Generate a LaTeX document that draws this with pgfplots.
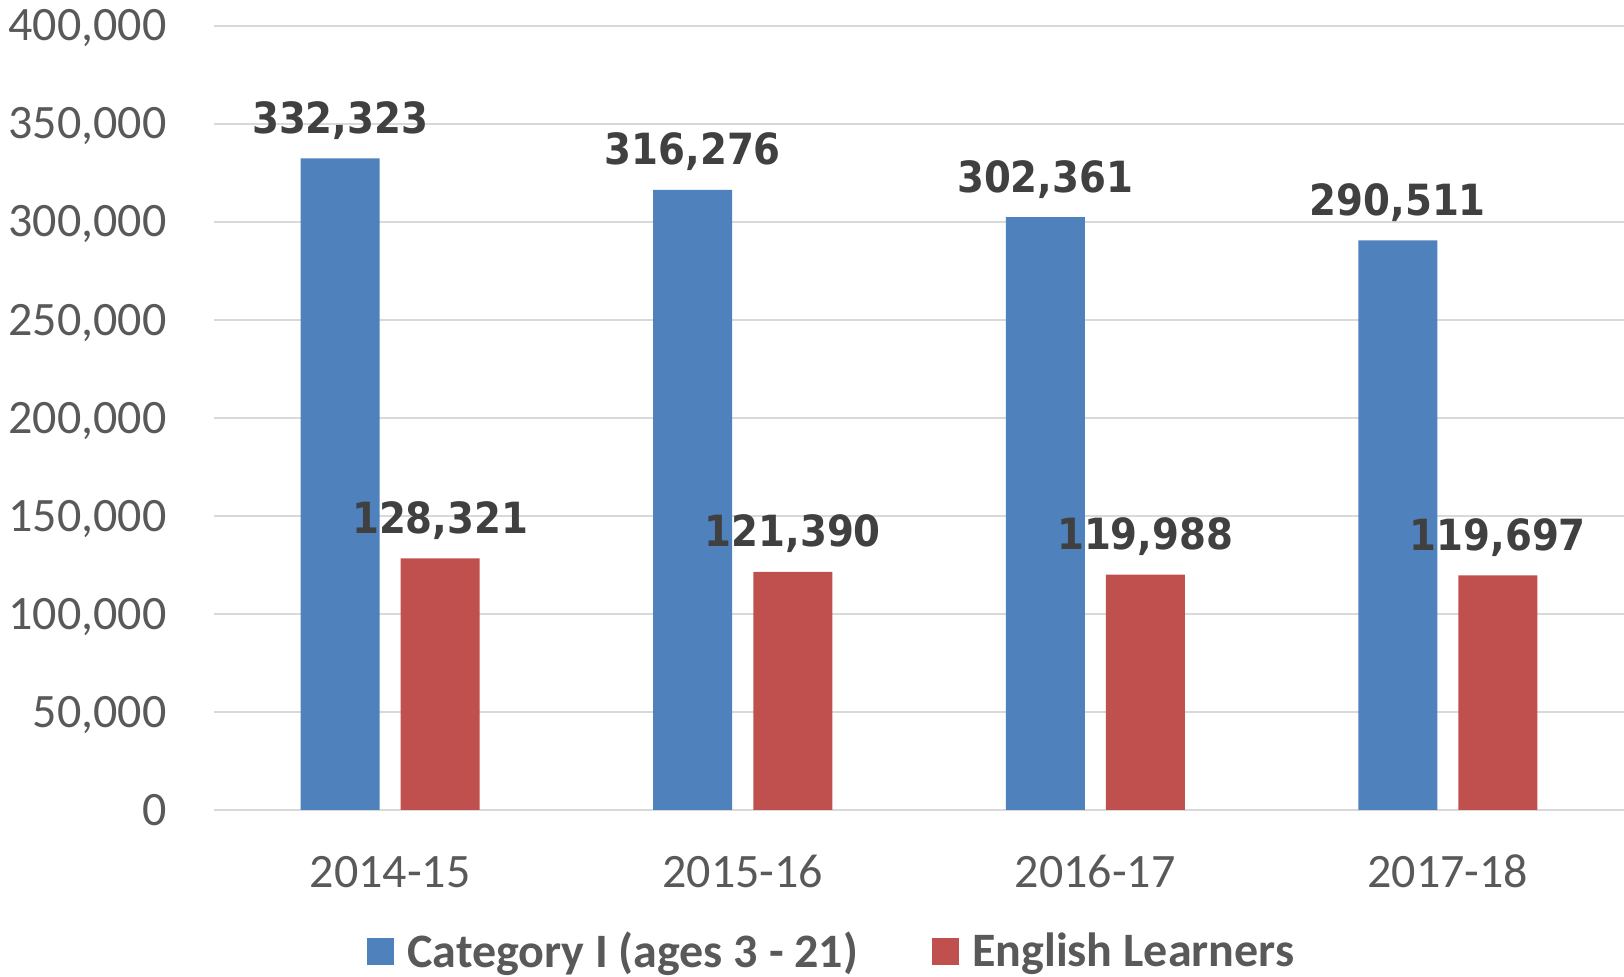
\documentclass[border=0pt]{standalone}
\usepackage{fontspec}
\setmainfont{Carlito}
\newfontfamily\lblfont{DejaVu Sans Condensed Bold}
\usepackage{xcolor}
\usepackage{pgfplots}
\pgfplotsset{compat=1.18}

\definecolor{catBlue}{HTML}{4F81BD}
\definecolor{elRed}{HTML}{C0504D}
\definecolor{gridGray}{HTML}{D9D9D9}
\definecolor{tickGray}{HTML}{595959}
\definecolor{lblGray}{HTML}{404040}

\begin{document}
\begin{tikzpicture}
\begin{axis}[
	name=ax,
	scale only axis,
	width=705pt,
	height=392.15pt,
	xmin=-0.5,xmax=3.5,
	ymin=0,ymax=400000,
	ytick={0,50000,100000,150000,200000,250000,300000,350000,400000},
	xtick={0,1,2,3},
	xticklabels={2014-15,2015-16,2016-17,2017-18},
	scaled y ticks=false,
	ybar=10.5pt,
	bar width=39.5pt,
	major tick length=0pt,
	axis line style={draw=none},
	ymajorgrids,
	major grid style={draw=gridGray,line width=1pt},
	tick label style={font=\fontsize{24}{28}\selectfont,text=tickGray},
	xticklabel style={anchor=base,yshift=-39pt},
	yticklabel style={anchor=base east,inner sep=0pt,xshift=-23.5pt,yshift=-7.6pt},
	point meta=y,
	nodes near coords,
	nodes near coords style={font=\lblfont\fontsize{21.5}{24}\selectfont,text=lblGray,
		anchor=base,inner sep=0pt,yshift=12.5pt},
	legend columns=2,
	legend style={
		at={(rel axis cs:0.1085,-0.1798)},anchor=west,
		draw=none,fill=none,inner sep=0pt,
		font=\bfseries\fontsize{24}{28}\selectfont,text=tickGray,
		nodes={inner sep=0pt},
		/tikz/every odd column/.append style={column sep=6.5pt},
		/tikz/every even column/.append style={column sep=37pt},
	},
	legend image code/.code={\fill[#1,draw=none] (0pt,-6.75pt) rectangle (13.5pt,6.75pt);},
	/pgf/number format/fixed,
	/pgf/number format/precision=0,
	/pgf/number format/1000 sep={,},
	/pgf/number format/assume math mode=true,
]
\addplot[fill=catBlue,draw=none] coordinates {(0,332323) (1,316276) (2,302361) (3,290511)};
\addlegendentry{Category I (ages 3 - 21)}
\addplot[fill=elRed,draw=none] coordinates {(0,128321) (1,121390) (2,119988) (3,119697)};
\addlegendentry{English Learners}
\end{axis}
\pgfresetboundingbox
\path ([shift={(-107pt,-83.5pt)}]ax.south west) rectangle ([shift={(0pt,12.85pt)}]ax.north east);
\end{tikzpicture}
\end{document}
